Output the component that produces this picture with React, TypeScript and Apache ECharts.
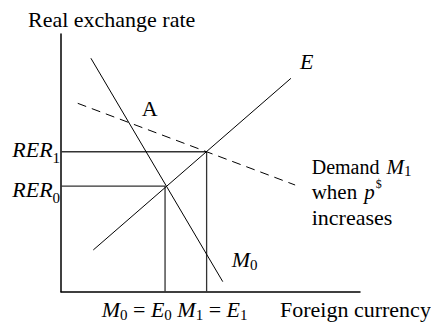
import React, { useEffect, useRef } from "react";
import * as echarts from "echarts";

// Curves (data units: x 0..100 foreign currency, y 0..100 real exchange rate)
const demandM0 = [[10.0, 90.6], [54.1, 3.9]];
const supplyE = [[10.8, 16.2], [76.9, 82.8]];
const demandM1 = [[5.6, 73.1], [78.3, 41.4]];
// Equilibria
const rerValues = [41.0, 54.3]; // RER0, RER1
const qtyValues = [34.8, 48.7]; // M0=E0, M1=E1

const FONT = '"Liberation Serif", "Times New Roman", serif';
const FS = 22;

type Part = { t: string; italic?: boolean; size?: number; dy?: number; gap?: number };

let measureCtx: CanvasRenderingContext2D | null = null;
function measure(t: string, size: number, italic: boolean) {
  if (!measureCtx) measureCtx = document.createElement("canvas").getContext("2d");
  if (!measureCtx) return t.length * size * 0.5;
  measureCtx.font = `${italic ? "italic " : ""}${size}px ${FONT}`;
  return measureCtx.measureText(t).width;
}

// Lay out text fragments on one baseline; each fragment is a real text element.
function frags(x0: number, baseline: number, parts: Part[]) {
  const out: any[] = [];
  let x = x0;
  for (const p of parts) {
    const size = p.size ?? FS;
    const italic = !!p.italic;
    x += p.gap ?? 0;
    out.push({
      type: "text",
      x,
      y: baseline + (p.dy ?? 0) - 0.3375 * size,
      silent: true,
      style: {
        text: p.t,
        fontFamily: FONT,
        fontSize: size,
        fontStyle: italic ? "italic" : "normal",
        fill: "#000",
        textAlign: "left",
        textVerticalAlign: "middle",
      },
    });
    x += measure(p.t, size, italic);
  }
  return out;
}

export default function App() {
  const ref = useRef<HTMLDivElement>(null);
  useEffect(() => {
    if (!ref.current) return;
    const chart = echarts.init(ref.current, null, { renderer: "svg" });
    const line = (data: number[][], extra: any = {}) => ({
      type: "line",
      data,
      showSymbol: false,
      symbol: "none",
      silent: true,
      lineStyle: { color: "#000", width: 1, ...extra },
    });
    const drop = (i: number) =>
      line(
        [
          [0, rerValues[i]],
          [qtyValues[i], rerValues[i]],
          [qtyValues[i], 0],
        ],
        { color: "#333", width: 1.3 }
      );
    const SUB = 15;
    chart.setOption({
      animation: false,
      grid: { left: 61, top: 34, width: 299, height: 257.7 },
      xAxis: {
        type: "value",
        min: 0,
        max: 100,
        axisLine: { show: true, onZero: false, lineStyle: { color: "#000", width: 1.5 } },
        axisTick: { show: false },
        axisLabel: { show: false },
        splitLine: { show: false },
      },
      yAxis: {
        type: "value",
        min: 0,
        max: 100,
        axisLine: { show: true, onZero: false, lineStyle: { color: "#000", width: 1.5 } },
        axisTick: { show: false },
        axisLabel: { show: false },
        splitLine: { show: false },
      },
      series: [
        drop(0),
        drop(1),
        line(demandM0),
        line(supplyE),
        line(demandM1, { type: [9, 6] }),
      ],
      graphic: [
        ...frags(28, 26.7, [{ t: "Real exchange rate" }]),
        ...frags(280, 316.7, [{ t: "Foreign currency" }]),
        ...frags(101.7, 316.7, [
          { t: "M", italic: true },
          { t: "0", size: SUB, dy: 3 },
          { t: " = " },
          { t: "E", italic: true },
          { t: "0", size: SUB, dy: 3 },
          { t: " " },
          { t: "M", italic: true },
          { t: "1", size: SUB, dy: 3 },
          { t: " = " },
          { t: "E", italic: true },
          { t: "1", size: SUB, dy: 3 },
        ]),
        ...frags(12.3, 157.3, [
          { t: "RER", italic: true },
          { t: "1", size: SUB, dy: 6 },
        ]),
        ...frags(12.3, 196.7, [
          { t: "RER", italic: true },
          { t: "0", size: SUB, dy: 6 },
        ]),
        ...frags(231.7, 266.7, [
          { t: "M", italic: true },
          { t: "0", size: SUB, dy: 3 },
        ]),
        ...frags(300, 69, [{ t: "E", italic: true }]),
        ...frags(141.7, 116, [{ t: "A" }]),
        ...frags(311.7, 174, [
          { t: "Demand", size: 20 },
          { t: "M", italic: true, size: 21, gap: 7 },
          { t: "1", size: SUB, dy: 2 },
        ]),
        ...frags(311.7, 199, [
          { t: "when", size: 21 },
          { t: "p", italic: true, size: 21, gap: 7 },
          { t: "$", size: 12, dy: -11, gap: 1 },
        ]),
        ...frags(311.7, 224.5, [{ t: "increases" }]),
      ],
    });
    return () => chart.dispose();
  }, []);
  return (
    <div
      ref={ref}
      style={{ position: "absolute", left: 0, top: 0, width: 431, height: 325, background: "#fff" }}
    />
  );
}
